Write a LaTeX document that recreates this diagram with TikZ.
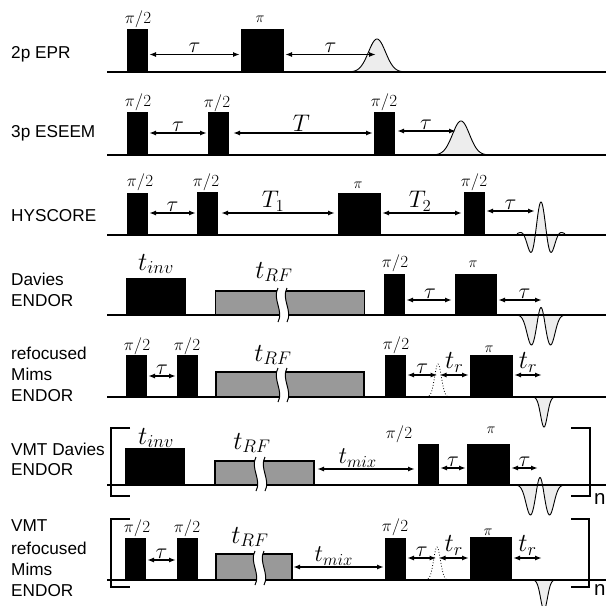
\documentclass[tikz,border=0pt]{standalone}
\usepackage{fix-cm}
\usepackage[no-math]{fontspec}
\newfontfamily\seqfont{Liberation Sans}
\usetikzlibrary{arrows.meta}
\definecolor{rfgray}{gray}{0.6}
\definecolor{echogray}{gray}{0.93}

\begin{document}
\begin{tikzpicture}[x=1pt, y=-1pt,
    declare function={bump(\u,\s)=exp(-(\u)^2/(2*\s^2));},
    >={Latex[length=7pt,width=5pt]},
    pulse/.style 2 args={fill=black, inner sep=0pt, outer sep=0pt, anchor=south west, minimum width=#1pt, minimum height=#2pt},
    rf/.style 2 args={pulse={#1}{#2}, fill=rfgray, draw=black, line width=1.2pt},
    axis/.style={line width=1.6pt, black},
    span/.style={<->, line width=1.4pt, black, shorten >=1pt, shorten <=1pt},
    echo/.style={fill=echogray, draw=black, line width=0.9pt, samples=81, smooth},
    ghost/.style={draw=black, line width=0.8pt, dotted, samples=41, smooth},
    brack/.style={line width=1.8pt, black},
    seq/.style={font=\seqfont\fontsize{17.2}{17.2}\selectfont, anchor=west, inner sep=0pt},
    count/.style={font=\seqfont\fontsize{20.5}{20.5}\selectfont, anchor=west, inner sep=0pt},
    flip/.style={font=\fontsize{17}{17}\selectfont, inner sep=0pt},
    flipb/.style={font=\fontsize{15}{15}\selectfont, inner sep=0pt},
    delay/.style={font=\fontsize{22}{22}\selectfont, inner sep=0pt},
    big/.style={font=\fontsize{24}{24}\selectfont, inner sep=0pt},
    long/.style={font=\fontsize{26}{26}\selectfont, inner sep=0pt},
    breakmark/.pic={
      \fill[white] (-2,-17) .. controls (-8,-6) and (4,6) .. (-2,17) -- (7,17) .. controls (13,6) and (1,-6) .. (7,-17) -- cycle;
      \draw[line width=1pt] (-2,-17) .. controls (-8,-6) and (4,6) .. (-2,17);
      \draw[line width=1pt] (7,-17) .. controls (1,-6) and (13,6) .. (7,17);
    }]

\useasboundingbox (0,0) rectangle (606,606);

% echoes under the base lines
\draw[echo] plot[domain=-25:25] (377+\x, {72-33*bump(\x,8.5)});
\draw[echo] plot[domain=-25:25] (461+\x, {155-34*bump(\x,8.5)});
\draw[echo] plot[domain=-24:24] (541+\x, {235-33*cos(180*\x/11.5)*bump(\x,9.5)});
\draw[echo] plot[domain=-23:23] (541+\x, {315-14*bump(\x,3)+30*bump(\x-9.5,4.5)+30*bump(\x+9.5,4.5)});
\draw[echo] plot[domain=-9:9] (544+\x, {397+30*bump(\x,3.4)});
\draw[echo] plot[domain=-23:23] (540+\x, {485-14*bump(\x,3)+30*bump(\x-9.5,4.5)+30*bump(\x+9.5,4.5)});
\draw[echo] plot[domain=-9:9] (544+\x, {580+30*bump(\x,3.4)});
\draw[ghost] plot[domain=-9:9] (438+\x, {397-33*bump(\x,3.4)});
\draw[ghost] plot[domain=-9:9] (437+\x, {580-33*bump(\x,3.4)});

\foreach \y in {72,155,235}
  \draw[axis] (107,\y) -- (606,\y);
\foreach \y in {315,397,485,580}
  \draw[axis, line width=1.3pt] (107,\y) -- (606,\y);

% 2p EPR
\node[seq] (l1) at (11,54) {2p EPR};
\node[pulse={21}{43}] (a1) at (127,72) {};
\node[pulse={43}{43}] (a2) at (241,72) {};
\coordinate (a3) at (377,54.5);
\node[flip] (fa1) at (138,19) {$\pi/2$};
\node[flipb] (fa2) at (260,19) {$\pi$};
\draw[span] (a1.east |- a3) -- (a2.west |- a3) node[delay,midway,above=1pt] (ta1) {$\tau$};
\draw[span] (a2.east |- a3) -- (a3) node[delay,midway,above=1pt] (ta2) {$\tau$};

% 3p ESEEM
\node[seq] (l2) at (11,133) {3p ESEEM};
\node[pulse={21}{43}] (b1) at (127,155) {};
\node[pulse={21}{43}] (b2) at (208,155) {};
\node[pulse={21}{43}] (b3) at (374,155) {};
\coordinate (b4) at (457,131);
\node[flip] (fb1) at (138,102) {$\pi/2$};
\node[flip] (fb2) at (217,103) {$\pi/2$};
\node[flip] (fb3) at (384,102) {$\pi/2$};
\draw[span] (b1.east |- 0,133) -- (b2.west |- 0,133) node[delay,midway,above=1pt] (tb1) {$\tau$};
\draw[span, shorten <=4pt] (b2.east |- 0,133) -- (b3.west |- 0,133) node[big,midway,above=1pt] (tb2) {$T$};
\draw[span, shorten <=2pt] (b3.east |- b4) -- (b4) node[delay,midway,above=1pt] (tb3) {$\tau$};

% HYSCORE
\node[seq] (l3) at (11,216) {HYSCORE};
\node[pulse={21}{42}] (c1) at (127,235) {};
\node[pulse={21}{43}] (c2) at (197,235) {};
\node[pulse={43}{42}] (c3) at (338,235) {};
\node[pulse={21}{43}] (c4) at (464,235) {};
\coordinate (c5) at (536,211);
\node[flip] (fc1) at (140,182) {$\pi/2$};
\node[flip] (fc2) at (206,182) {$\pi/2$};
\node[flipb] (fc3) at (358,185) {$\pi$};
\node[flip] (fc4) at (474,182) {$\pi/2$};
\draw[span] (c1.east |- 0,213) -- (c2.west |- 0,213) node[delay,midway,above=1pt] (tc1) {$\tau$};
\draw[span, shorten <=3pt, shorten >=3pt] (c2.east |- 0,213) -- (c3.west |- 0,213) node[big,pos=.46,above=1pt] (tc2) {$T_1$};
\draw[span, shorten >=2pt] (c3.east |- 0,213) -- (c4.west |- 0,213) node[big,pos=.47,above=1pt] (tc3) {$T_2$};
\draw[span] (c4.east |- c5) -- (c5) node[delay,midway,above=1pt] (tc4) {$\tau$};

% Davies ENDOR
\node[seq] (l4) at (11,279) {Davies};
\node[seq] (l4b) at (11,301) {ENDOR};
\node[pulse={60}{37}] (d1) at (126,315) {};
\node[rf={149}{24}] (d2) at (215.5,315) {};
\pic at (280,305) {breakmark};
\node[pulse={21}{41}] (d3) at (384,315) {};
\node[pulse={42}{41}] (d4) at (455,315) {};
\coordinate (d5) at (543,300);
\node[long] (fd0) at (156,264) {$t_{inv}$};
\node[long] (fd1) at (274,272) {$t_{RF}$};
\node[flip] (fd2) at (395,263) {$\pi/2$};
\node[flipb] (fd3) at (473,264) {$\pi$};
\draw[span, shorten >=3pt] (d3.east |- d5) -- (d4.west |- d5) node[delay,midway,above=1pt] (td1) {$\tau$};
\draw[span] (d4.east |- d5) -- (d5) node[delay,pos=.6,above=1pt] (td2) {$\tau$};

% refocused Mims ENDOR
\node[seq] (l5) at (11,353) {refocused};
\node[seq] (l5b) at (11,374) {Mims};
\node[seq] (l5c) at (11,396) {ENDOR};
\node[pulse={21}{42}] (e1) at (126,397) {};
\node[pulse={21}{42}] (e2) at (177,397) {};
\node[rf={148}{25}] (e3) at (216,397) {};
\pic at (280,385) {breakmark};
\node[pulse={21}{42}] (e4) at (385,397) {};
\node[pulse={43}{42}] (e5) at (470,397) {};
\coordinate (e6) at (438.5,375);
\coordinate (e7) at (543,375);
\node[flip] (fe1) at (137,346) {$\pi/2$};
\node[flip] (fe2) at (187,346) {$\pi/2$};
\node[long] (fe3) at (273,355) {$t_{RF}$};
\node[flip] (fe4) at (396,345) {$\pi/2$};
\node[flipb] (fe5) at (489,349) {$\pi$};
\draw[span] (e1.east |- 0,376) -- (e2.west |- 0,376) node[delay,midway,above=1pt] (te1) {$\tau$};
\draw[span] (e4.east |- e6) -- (e6) node[delay,midway,above=1pt] (te2) {$\tau$};
\draw[span] (e6) -- (e5.west |- e6) node[long,midway,above=2pt] (te3) {$t_r$};
\draw[span] (e5.east |- e7) -- (e7) node[long,midway,above=2pt] (te4) {$t_r$};

% VMT Davies ENDOR
\node[seq] (l6) at (11,449) {VMT Davies};
\node[seq] (l6b) at (11,470) {ENDOR};
\node[pulse={60}{37}] (f1) at (125,485) {};
\node[rf={99}{24}] (f2) at (215,485) {};
\pic at (258,474) {breakmark};
\node[pulse={21}{41}] (f3) at (418,485) {};
\node[pulse={43}{41}] (f4) at (467,485) {};
\coordinate (f5) at (539,468);
\node[long] (ff0) at (156,438) {$t_{inv}$};
\node[long] (ff1) at (252,443) {$t_{RF}$};
\node[flip] (ff2) at (399,434) {$\pi/2$};
\node[flipb] (ff3) at (491,430) {$\pi$};
\draw[span, shorten <=3pt, shorten >=3pt] (f2.east |- 0,469) -- (f3.west |- 0,469) node[big,pos=.42,above=1pt] (tf1) {$t_{mix}$};
\draw[span] (f3.east |- f5) -- (f4.west |- f5) node[delay,midway,above=1pt] (tf2) {$\tau$};
\draw[span] (f4.east |- f5) -- (f5) node[delay,midway,above=1pt] (tf3) {$\tau$};
\draw[brack] (130,428) -| (111,496) -- (130,496);
\draw[brack] (571,428) -| (590,496) -- (571,496);
\node[count] (n1) at (594,499) {n};

% VMT refocused Mims ENDOR
\node[seq] (l7) at (11,526) {VMT};
\node[seq] (l7b) at (11,548) {refocused};
\node[seq] (l7c) at (11,569) {Mims};
\node[seq] (l7d) at (11,591) {ENDOR};
\node[pulse={21}{42}] (g1) at (125,580) {};
\node[pulse={21}{42}] (g2) at (177,580) {};
\node[rf={76}{26}] (g3) at (216,580) {};
\pic at (257,568) {breakmark};
\node[pulse={21}{42}] (g4) at (385,580) {};
\node[pulse={42}{43}] (g5) at (470,580) {};
\coordinate (g6) at (437.5,558);
\coordinate (g7) at (543,558);
\node[flip] (fg1) at (137,528) {$\pi/2$};
\node[flip] (fg2) at (187,528) {$\pi/2$};
\node[long] (fg3) at (250,537) {$t_{RF}$};
\node[flip] (fg4) at (395,527) {$\pi/2$};
\node[flipb] (fg5) at (488,532) {$\pi$};
\draw[span] (g1.east |- 0,560) -- (g2.west |- 0,560) node[delay,midway,above=1pt] (tg1) {$\tau$};
\draw[span] (g3.east |- 0,567) -- (g4.west |- 0,567) node[big,pos=.45,above=1pt] (tg2) {$t_{mix}$};
\draw[span] (g4.east |- g6) -- (g6) node[delay,midway,above=1pt] (tg3) {$\tau$};
\draw[span] (g6) -- (g5.west |- g6) node[long,midway,above=2pt] (tg4) {$t_r$};
\draw[span] (g5.east |- g7) -- (g7) node[long,midway,above=2pt] (tg5) {$t_r$};
\draw[brack] (130,519) -| (111,587) -- (130,587);
\draw[brack] (571,519) -| (589,587) -- (571,587);
\node[count] (n2) at (594,590) {n};

\end{tikzpicture}
\end{document}
